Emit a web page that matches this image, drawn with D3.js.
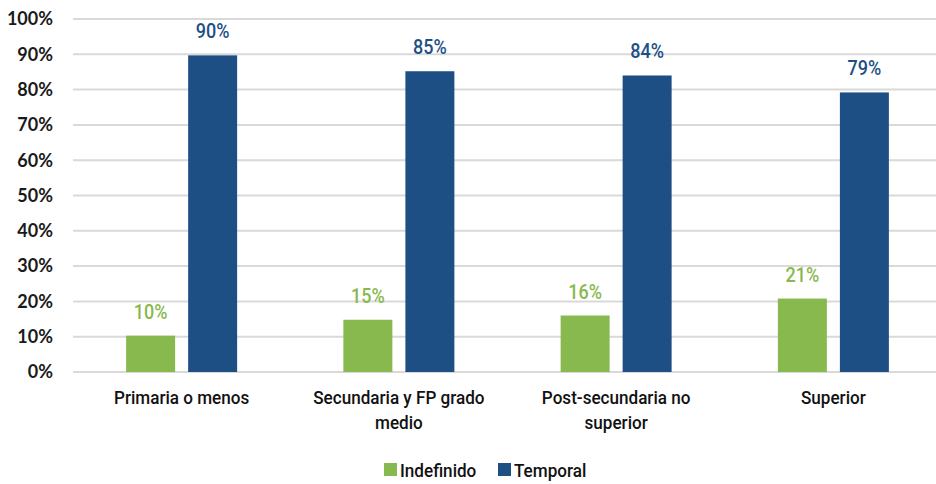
<!DOCTYPE html>
<html>
<head>
<meta charset="utf-8">
<script src="https://cdn.jsdelivr.net/npm/d3@7"></script>
<style>
  body { margin: 0; background: #fff; }
  svg { display: block; }
</style>
</head>
<body>
<svg id="chart"></svg>
<script>
// Data
const categories = [
  ["Primaria o menos"],
  ["Secundaria y FP grado", "medio"],
  ["Post-secundaria no", "superior"],
  ["Superior"],
];
const seriesNames = ["Indefinido", "Temporal"];
const indefinido = [10.3, 14.8, 16.0, 20.8];
const temporal = [89.7, 85.2, 84.0, 79.2];
const valueLabels = [
  ["10%", "15%", "16%", "21%"],
  ["90%", "85%", "84%", "79%"],
];
const yTicks = [0, 10, 20, 30, 40, 50, 60, 70, 80, 90, 100];

const colors = ["#88b94e", "#1d4f85"];

const W = 936, H = 484;
const margin = { top: 19, right: -6, bottom: 112, left: 73 };
const width = W - margin.left - margin.right;
const height = H - margin.top - margin.bottom;

const svg = d3.select("#chart").attr("width", W).attr("height", H);
const g = svg.append("g").attr("transform", `translate(${margin.left},${margin.top})`);

const x0 = d3.scaleBand().domain(d3.range(categories.length)).range([0, width]);
const x1 = d3.scaleBand().domain([0, 1]).range([x0.bandwidth() / 2 - 55.5, x0.bandwidth() / 2 + 55.5]).paddingInner(0.21);
const y = d3.scaleLinear().domain([0, 100]).range([height, 0]);

// condensed look: Roboto squeezed horizontally
const narrow = "Roboto, sans-serif";
const squeeze = 0.9;

// gridlines
g.append("g")
  .selectAll("line")
  .data(yTicks)
  .join("line")
  .attr("x1", 0)
  .attr("x2", width)
  .attr("y1", (d) => y(d))
  .attr("y2", (d) => y(d))
  .attr("stroke", "#d9d9d9")
  .attr("stroke-width", 2);

// y tick labels
g.append("g")
  .selectAll("text")
  .data(yTicks)
  .join("text")
  .attr("x", -20)
  .attr("y", (d) => y(d))
  .attr("dy", "0.35em")
  .attr("text-anchor", "end")
  .attr("font-family", "Lato, 'Open Sans', sans-serif")
  .attr("font-weight", 700)
  .attr("font-size", "18px")
  .attr("fill", "#1a1a1a")
  .text((d) => d + "%");

const series = [indefinido, temporal];

series.forEach((vals, s) => {
  const grp = g.append("g");
  grp.selectAll("rect")
    .data(vals)
    .join("rect")
    .attr("x", (d, i) => x0(i) + x1(s))
    .attr("y", (d) => y(d))
    .attr("width", x1.bandwidth())
    .attr("height", (d) => y(0) - y(d))
    .attr("fill", colors[s]);

  grp.selectAll("text")
    .data(vals)
    .join("text")
    .attr("transform", (d, i) =>
      `translate(${x0(i) + x1(s) + x1.bandwidth() / 2},${y(d) - 17}) scale(0.9,1)`)
    .attr("text-anchor", "middle")
    .attr("font-family", narrow)
    .attr("font-weight", 500)
    .attr("font-size", "20px")
    .attr("fill", colors[s])
    .text((d, i) => valueLabels[s][i]);
});

// category labels
const cat = g.append("g");
categories.forEach((lines, i) => {
  const t = cat.append("text")
    .attr("transform", `translate(${x0(i) + x0.bandwidth() / 2},${height + 32}) scale(${squeeze},1)`)
    .attr("text-anchor", "middle")
    .attr("font-family", narrow)
    .attr("font-weight", 500)
    .attr("font-size", "19px")
    .attr("fill", "#111");
  lines.forEach((line, j) => {
    t.append("tspan")
      .attr("x", 0)
      .attr("dy", j === 0 ? 0 : 25)
      .text(line);
  });
});

// legend
const legend = svg.append("g").attr("transform", "translate(384,462)");
const legendX = [0, 114];
seriesNames.forEach((name, i) => {
  legend.append("rect")
    .attr("x", legendX[i])
    .attr("y", 1)
    .attr("width", 13)
    .attr("height", 13)
    .attr("fill", colors[i]);
  legend.append("text")
    .attr("transform", `translate(${legendX[i] + 16},8) scale(${squeeze},1)`)
    .attr("dy", "0.35em")
    .attr("font-family", narrow)
    .attr("font-weight", 500)
    .attr("font-size", "19px")
    .attr("fill", "#111")
    .text(name);
});
</script>
</body>
</html>
